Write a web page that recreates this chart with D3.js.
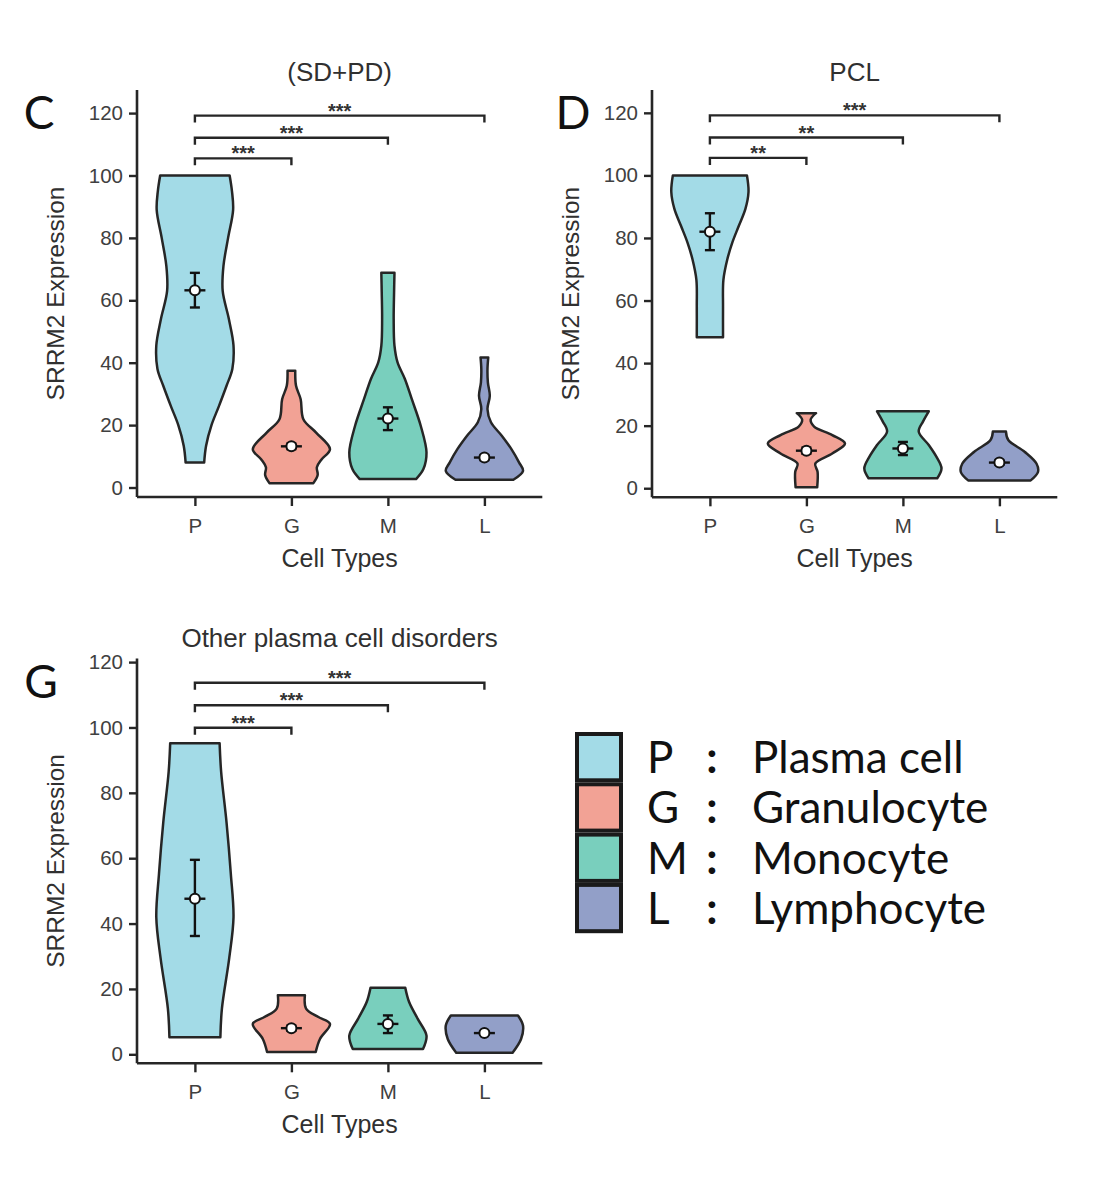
<!DOCTYPE html>
<html>
<head>
<meta charset="utf-8">
<script src="https://cdn.jsdelivr.net/npm/d3@7"></script>
<style>
  html, body { margin: 0; padding: 0; background: #fff; }
  svg { display: block; }
</style>
</head>
<body>
<svg id="fig" width="1118" height="1196"></svg>
<script>
// ---------------- DATA ----------------
const categories = ["P", "G", "M", "L"];
const categoryNames = ["Plasma cell", "Granulocyte", "Monocyte", "Lymphocyte"];
const fillColors = ["#a3dbe7", "#f2a295", "#79cfbd", "#929fc8"];
const yTickValues = [0, 20, 40, 60, 80, 100, 120];

// violin profiles: [value, relative half-width] (top -> bottom), panel C (SD+PD)
const profileC_P = [[100,0.90],[95,0.96],[89,0.99],[80,0.86],[71,0.74],[63,0.72],[54,0.88],[45.5,1.0],[38,0.97],[32.6,0.82],[26,0.62],[20,0.43],[13.4,0.29],[8,0.24]];
const profileC_G = [[37.4,0.10],[32.6,0.12],[28.3,0.24],[21.9,0.31],[17.6,0.64],[12.3,1.0],[9,0.78],[6.5,0.66],[4,0.68],[1.4,0.57]];
const profileC_M = [[68.8,0.17],[62.6,0.16],[54,0.15],[45.5,0.17],[40.1,0.25],[34.8,0.44],[28.3,0.62],[19.8,0.85],[11.2,1.0],[5.9,0.92],[2.7,0.73]];
const profileC_L = [[41.7,0.10],[38,0.08],[33.7,0.09],[29.4,0.14],[25.1,0.08],[20.9,0.17],[16.6,0.45],[12.3,0.70],[8,0.90],[5.3,1.0],[2.5,0.75]];
// panel D (PCL)
const profileD_P = [[100,0.96],[94.7,1.0],[89.3,0.92],[83.9,0.75],[78.5,0.58],[73.1,0.45],[66.6,0.35],[58,0.34],[48.3,0.34]];
const profileD_G = [[24,0.25],[21.9,0.11],[19.7,0.20],[17,0.67],[14.3,1.0],[11.1,0.67],[7.9,0.23],[5.2,0.29],[0.3,0.28]];
const profileD_M = [[24.6,0.67],[21.3,0.52],[18.1,0.41],[13.8,0.67],[10,0.87],[6.3,1.0],[3.2,0.89]];
const profileD_L = [[18.1,0.17],[15.4,0.23],[11.6,0.66],[7.9,0.96],[5.2,1.0],[2.5,0.81]];
// panel G (Other plasma cell disorders)
const profileG_P = [[95.2,0.64],[86.4,0.68],[70.9,0.82],[55.3,0.93],[41.9,1.0],[29.5,0.89],[14,0.70],[5.2,0.66]];
const profileG_G = [[18.1,0.35],[14,0.38],[11.4,0.70],[9.3,1.0],[4.7,0.74],[0.7,0.63]];
const profileG_M = [[20.4,0.45],[16,0.55],[10.9,0.77],[5.7,1.0],[1.6,0.91]];
const profileG_L = [[11.9,0.87],[8.8,1.0],[4.7,0.95],[0.5,0.73]];

// mean and error bars (low, high) per category
const meansC = [63.2, 13.2, 22.1, 9.6];
const errLowC = [57.7, 12.3, 18.4, 8.8];
const errHighC = [68.8, 14.1, 25.7, 10.4];
const meansD = [82.0, 12.0, 12.7, 8.2];
const errLowD = [76.1, 11.0, 10.6, 7.5];
const errHighD = [87.9, 13.0, 14.8, 9.0];
const meansG = [47.6, 8.0, 9.3, 6.5];
const errLowG = [36.2, 7.2, 6.5, 6.0];
const errHighG = [59.5, 8.8, 11.9, 7.0];

// significance brackets: P vs G, P vs M, P vs L
const bracketTargets = ["G", "M", "L"];
const bracketYC = [105.5, 112.1, 119.2];
const bracketLabelsC = ["***", "***", "***"];
const bracketYD = [105.6, 112.1, 119.2];
const bracketLabelsD = ["**", "**", "***"];
const bracketYG = [99.9, 106.8, 113.7];
const bracketLabelsG = ["***", "***", "***"];

const panelTitles = ["(SD+PD)", "PCL", "Other plasma cell disorders"];
const panelLetters = ["C", "D", "G"];

// ---------------- DRAW ----------------
const svg = d3.select("#fig");
const sansFont = "'Liberation Sans', Arial, Helvetica, sans-serif";
const letterFont = "Lato, 'Open Sans', sans-serif";
const lineColor = "#262626";

const panels = [
  { title: panelTitles[0], letter: panelLetters[0], left: 137, right: 542.3, top: 90, bottom: 497, ydom: [-3.04, 127.4],
    profiles: [profileC_P, profileC_G, profileC_M, profileC_L], means: meansC, lo: errLowC, hi: errHighC,
    by: bracketYC, bl: bracketLabelsC, letterX: 39, letterY: 129, titleY: 81, ylabX: 64 },
  { title: panelTitles[1], letter: panelLetters[1], left: 652, right: 1057.3, top: 90, bottom: 497.3, ydom: [-2.9, 127.3],
    profiles: [profileD_P, profileD_G, profileD_M, profileD_L], means: meansD, lo: errLowD, hi: errHighD,
    by: bracketYD, bl: bracketLabelsD, letterX: 573, letterY: 129, titleY: 81, ylabX: 579 },
  { title: panelTitles[2], letter: panelLetters[2], left: 137, right: 542.3, top: 658.5, bottom: 1063.3, ydom: [-2.75, 121.1],
    profiles: [profileG_P, profileG_G, profileG_M, profileG_L], means: meansG, lo: errLowG, hi: errHighG,
    by: bracketYG, bl: bracketLabelsG, letterX: 41, letterY: 698, titleY: 647, ylabX: 64 }
];

panels.forEach(p => {
  const g = svg.append("g");
  const x = d3.scalePoint().domain(categories).range([p.left, p.right]).padding(0.6);
  const y = d3.scaleLinear().domain(p.ydom).range([p.bottom, p.top]);
  const step = x.step();
  const maxHalf = 0.4 * step;

  // violins
  categories.forEach((c, i) => {
    const cx = x(c);
    const area = d3.area()
      .y(d => y(d[0]))
      .x0(d => cx - d[1] * maxHalf)
      .x1(d => cx + d[1] * maxHalf)
      .curve(d3.curveCatmullRom.alpha(0.5));
    g.append("path")
      .attr("d", area(p.profiles[i]))
      .attr("fill", fillColors[i])
      .attr("stroke", lineColor)
      .attr("stroke-width", 2.5)
      .attr("stroke-linejoin", "round");
  });

  // mean + error bars
  categories.forEach((c, i) => {
    const cx = x(c);
    const eb = g.append("g").attr("stroke", "#111").attr("stroke-width", 2.4);
    eb.append("line").attr("x1", cx).attr("x2", cx).attr("y1", y(p.lo[i])).attr("y2", y(p.hi[i]));
    eb.append("line").attr("x1", cx - 5).attr("x2", cx + 5).attr("y1", y(p.lo[i])).attr("y2", y(p.lo[i]));
    eb.append("line").attr("x1", cx - 5).attr("x2", cx + 5).attr("y1", y(p.hi[i])).attr("y2", y(p.hi[i]));
    eb.append("line").attr("x1", cx - 10.5).attr("x2", cx + 10.5).attr("y1", y(p.means[i])).attr("y2", y(p.means[i]));
    g.append("circle").attr("cx", cx).attr("cy", y(p.means[i])).attr("r", 5)
      .attr("fill", "#fff").attr("stroke", "#111").attr("stroke-width", 2);
  });

  // brackets
  bracketTargets.forEach((t, j) => {
    const yy = y(p.by[j]);
    const x1 = x("P"), x2 = x(t);
    g.append("path")
      .attr("d", `M${x1},${yy + 7}V${yy}H${x2}V${yy + 7}`)
      .attr("fill", "none").attr("stroke", lineColor).attr("stroke-width", 2.4);
    g.append("text")
      .attr("x", (x1 + x2) / 2).attr("y", yy + 2)
      .attr("text-anchor", "middle")
      .attr("font-family", sansFont).attr("font-size", 20).attr("font-weight", "bold")
      .attr("fill", "#333")
      .text(p.bl[j]);
  });

  // axes
  const yAxis = d3.axisLeft(y).tickValues(yTickValues).tickSize(8).tickPadding(6);
  const ya = g.append("g").attr("transform", `translate(${p.left},0)`).call(yAxis);
  ya.select(".domain").attr("d", `M0,${p.top}V${p.bottom}`);
  const xAxis = d3.axisBottom(x).tickSize(9).tickPadding(12);
  const xa = g.append("g").attr("transform", `translate(0,${p.bottom})`).call(xAxis);
  xa.select(".domain").attr("d", `M${p.left},0H${p.right}`);
  [ya, xa].forEach(a => {
    a.select(".domain").attr("stroke", lineColor).attr("stroke-width", 2.6);
    a.selectAll(".tick line").attr("stroke", lineColor).attr("stroke-width", 2.4);
    a.selectAll(".tick text").attr("font-family", sansFont).attr("font-size", 20.5).attr("fill", "#404040");
  });

  // axis titles
  g.append("text")
    .attr("x", (p.left + p.right) / 2).attr("y", p.bottom + 70)
    .attr("text-anchor", "middle").attr("font-family", sansFont).attr("font-size", 25).attr("fill", "#303030")
    .text("Cell Types");
  g.append("text")
    .attr("transform", `translate(${p.ylabX},${(p.top + p.bottom) / 2}) rotate(-90)`)
    .attr("text-anchor", "middle").attr("font-family", sansFont).attr("font-size", 24.5).attr("fill", "#303030")
    .text("SRRM2 Expression");
  // plot title
  g.append("text")
    .attr("x", (p.left + p.right) / 2).attr("y", p.titleY)
    .attr("text-anchor", "middle").attr("font-family", sansFont).attr("font-size", 26).attr("fill", "#303030")
    .text(p.title);
  // panel letter
  g.append("text")
    .attr("x", p.letterX).attr("y", p.letterY)
    .attr("text-anchor", "middle").attr("font-family", letterFont).attr("font-size", 46).attr("fill", "#111")
    .text(p.letter);
});

// legend
const legend = svg.append("g");
const rowH = 50.3, legTop = 732;
categories.forEach((c, i) => {
  const top = legTop + i * rowH;
  legend.append("rect")
    .attr("x", 577).attr("y", top + 2).attr("width", 44).attr("height", rowH - 4)
    .attr("fill", fillColors[i]).attr("stroke", "#1a1a1a").attr("stroke-width", 4);
  const base = top + 41;
  legend.append("text").attr("x", 647).attr("y", base)
    .attr("font-family", letterFont).attr("font-size", 44).attr("fill", "#111").text(c);
  legend.append("text").attr("x", 712).attr("y", base).attr("text-anchor", "middle")
    .attr("font-family", letterFont).attr("font-size", 44).attr("font-weight", "bold").attr("fill", "#111").text(":");
  legend.append("text").attr("x", 752).attr("y", base)
    .attr("font-family", letterFont).attr("font-size", 44).attr("fill", "#111").text(categoryNames[i]);
});
</script>
</body>
</html>
